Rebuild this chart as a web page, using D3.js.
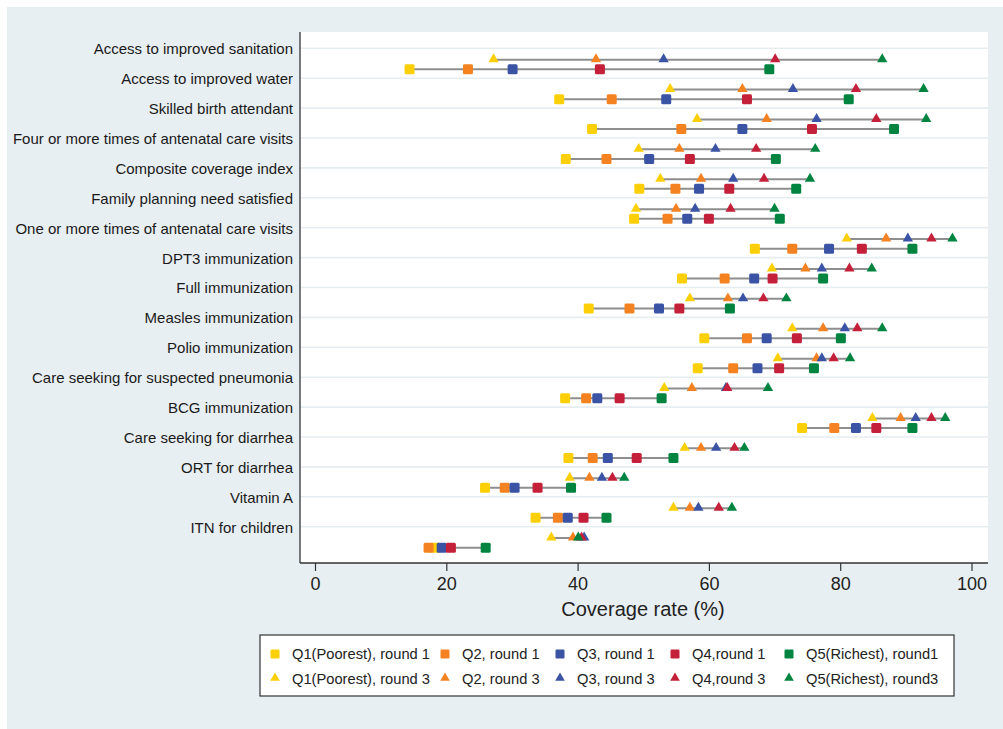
<!DOCTYPE html>
<html>
<head>
<meta charset="utf-8">
<script src="https://cdn.jsdelivr.net/npm/d3@7"></script>
<style>
  body { margin: 0; background: #fff; }
  svg { display: block; font-family: "Liberation Sans", Arial, Helvetica, sans-serif; }
</style>
</head>
<body>
<div id="chart"></div>
<script>
// indicators, top to bottom
var indicators = [
  "Access to improved sanitation",
  "Access to improved water",
  "Skilled birth attendant",
  "Four or more times of antenatal care visits",
  "Composite coverage index",
  "Family planning need satisfied",
  "One or more times of antenatal care visits",
  "DPT3 immunization",
  "Full immunization",
  "Measles immunization",
  "Polio immunization",
  "Care seeking for suspected pneumonia",
  "BCG immunization",
  "Care seeking for diarrhea",
  "ORT for diarrhea",
  "Vitamin A",
  "ITN for children"
];

var quintiles = ["Q1", "Q2", "Q3", "Q4", "Q5"];
var colors = ["#fdcf06", "#f58220", "#3a53a4", "#c5203a", "#00843f"];

// round 1 (squares), values per indicator: Q1..Q5
var round1 = [
  [14.4, 23.3, 30.1, 43.4, 69.2],
  [37.2, 45.2, 53.5, 65.8, 81.3],
  [42.2, 55.8, 65.1, 75.7, 88.2],
  [38.2, 44.4, 50.9, 57.1, 70.2],
  [49.4, 54.9, 58.5, 63.1, 73.3],
  [48.6, 53.7, 56.7, 60.0, 70.8],
  [67.0, 72.7, 78.3, 83.3, 91.0],
  [55.9, 62.4, 66.9, 69.7, 77.4],
  [41.7, 47.9, 52.4, 55.5, 63.2],
  [59.3, 65.8, 68.8, 73.4, 80.1],
  [58.3, 63.7, 67.4, 70.7, 76.0],
  [38.1, 41.3, 43.0, 46.4, 52.8],
  [74.2, 79.1, 82.4, 85.5, 91.0],
  [38.6, 42.3, 44.6, 49.0, 54.6],
  [25.9, 28.9, 30.4, 33.9, 39.0],
  [33.6, 37.0, 38.5, 40.9, 44.4],
  [18.3, 17.3, 19.3, 20.7, 26.0]
];

// round 3 (triangles), values per indicator: Q1..Q5
var round3 = [
  [27.2, 42.8, 53.1, 70.1, 86.4],
  [54.1, 65.1, 72.8, 82.4, 92.7],
  [58.2, 68.8, 76.4, 85.5, 93.1],
  [49.3, 55.5, 61.0, 67.2, 76.2],
  [52.6, 58.8, 63.7, 68.4, 75.4],
  [48.9, 55.0, 57.9, 63.3, 70.0],
  [81.0, 87.0, 90.3, 93.9, 97.1],
  [69.6, 74.7, 77.2, 81.4, 84.8],
  [57.1, 62.9, 65.2, 68.3, 71.8],
  [72.7, 77.4, 80.7, 82.6, 86.4],
  [70.5, 76.4, 77.2, 79.0, 81.5],
  [53.2, 57.4, 62.6, 62.8, 69.0],
  [84.9, 89.2, 91.5, 93.9, 96.0],
  [56.3, 58.8, 61.1, 63.9, 65.4],
  [38.8, 41.8, 43.7, 45.3, 47.1],
  [54.6, 57.1, 58.4, 61.5, 63.5],
  [36.0, 39.3, 41.0, 40.6, 40.1]
];

var legendRound1 = ["Q1(Poorest), round 1", "Q2, round 1", "Q3, round 1", "Q4,round 1", "Q5(Richest), round1"];
var legendRound3 = ["Q1(Poorest), round 3", "Q2, round 3", "Q3, round 3", "Q4,round 3", "Q5(Richest), round3"];
var xTicks = [0, 20, 40, 60, 80, 100];

var width = 1003, height = 729;
var plot = { left: 300, right: 988, top: 32, bottom: 563 };

var svg = d3.select("#chart").append("svg")
    .attr("width", width)
    .attr("height", height);

// outer background
svg.append("rect")
    .attr("x", 7).attr("y", 7)
    .attr("width", width - 7).attr("height", height - 7)
    .attr("fill", "#e8eff2");

svg.append("rect")
    .attr("x", plot.left).attr("y", plot.top)
    .attr("width", plot.right - plot.left).attr("height", plot.bottom - plot.top)
    .attr("fill", "#fff");

var x = d3.scaleLinear().domain([0, 100]).range([315, 971.5]);
var y = d3.scaleLinear().domain([0, indicators.length - 1]).range([48.3, 526.7]);

var triOffset = 0.38, sqOffset = 0.70;

// gridlines
svg.append("g").selectAll("line")
  .data(indicators)
  .enter().append("line")
    .attr("x1", plot.left).attr("x2", plot.right)
    .attr("y1", function(d, i) { return y(i); })
    .attr("y2", function(d, i) { return y(i); })
    .attr("stroke", "#e5edf0")
    .attr("stroke-width", 1.6);

// y labels
svg.append("g").selectAll("text")
  .data(indicators)
  .enter().append("text")
    .attr("x", 293)
    .attr("y", function(d, i) { return y(i) + 0.7; })
    .attr("dy", "0.35em")
    .attr("text-anchor", "end")
    .attr("font-size", 15)
    .attr("fill", "#1a1a1a")
    .text(function(d) { return d; });

// range lines
function rangeLines(data, offset) {
  svg.append("g").selectAll("line")
    .data(data)
    .enter().append("line")
      .attr("x1", function(d) { return x(d3.min(d)); })
      .attr("x2", function(d) { return x(d3.max(d)); })
      .attr("y1", function(d, i) { return y(i + offset); })
      .attr("y2", function(d, i) { return y(i + offset); })
      .attr("stroke", "#8e8e8e")
      .attr("stroke-width", 2);
}
rangeLines(round3, triOffset);
rangeLines(round1, sqOffset);

var tri = d3.symbol().type(d3.symbolTriangle).size(46);

// markers, drawn Q1..Q5
quintiles.forEach(function(q, k) {
  svg.append("g").selectAll("rect")
    .data(round1)
    .enter().append("rect")
      .attr("x", function(d) { return x(d[k]) - 5; })
      .attr("y", function(d, i) { return y(i + sqOffset) - 5; })
      .attr("width", 10).attr("height", 10)
      .attr("rx", 1.5)
      .attr("fill", colors[k]);
});
quintiles.forEach(function(q, k) {
  svg.append("g").selectAll("path")
    .data(round3)
    .enter().append("path")
      .attr("d", tri)
      .attr("transform", function(d, i) {
        return "translate(" + x(d[k]) + "," + (y(i + triOffset) - 0.5) + ")";
      })
      .attr("fill", colors[k]);
});

// axes lines
svg.append("line")
    .attr("x1", plot.left).attr("x2", plot.left)
    .attr("y1", plot.top).attr("y2", plot.bottom)
    .attr("stroke", "#333").attr("stroke-width", 1.3);

var xAxis = svg.append("g")
    .attr("transform", "translate(0," + plot.bottom + ")")
    .call(d3.axisBottom(x).tickValues(xTicks).tickSize(8).tickPadding(6));
xAxis.select(".domain").remove();
xAxis.append("line")
    .attr("x1", plot.left).attr("x2", plot.right)
    .attr("stroke", "#333").attr("stroke-width", 1.3);
xAxis.selectAll(".tick line").attr("stroke", "#333").attr("stroke-width", 1.2);
xAxis.selectAll(".tick text")
    .attr("font-size", 18)
    .attr("font-family", "'Liberation Sans', Arial, sans-serif")
    .attr("fill", "#222");

svg.append("text")
    .attr("x", 643)
    .attr("y", 616)
    .attr("text-anchor", "middle")
    .attr("font-size", 20)
    .attr("fill", "#222")
    .text("Coverage rate (%)");

// legend
var legend = svg.append("g");
legend.append("rect")
    .attr("x", 260).attr("y", 635)
    .attr("width", 694).attr("height", 61)
    .attr("fill", "#fff")
    .attr("stroke", "#333").attr("stroke-width", 1.2);

var colMarker = [275, 445, 560, 675, 789];
var rowY = [654, 679];

quintiles.forEach(function(q, k) {
  legend.append("rect")
      .attr("x", colMarker[k] - 4.5).attr("y", rowY[0] - 4.5)
      .attr("width", 9).attr("height", 9)
      .attr("rx", 1.2)
      .attr("fill", colors[k]);
  legend.append("text")
      .attr("x", colMarker[k] + 17).attr("y", rowY[0])
      .attr("dy", "0.35em")
      .attr("font-size", 14.7).attr("fill", "#222")
      .text(legendRound1[k]);
  legend.append("path")
      .attr("d", d3.symbol().type(d3.symbolTriangle).size(40))
      .attr("transform", "translate(" + colMarker[k] + "," + (rowY[1] - 1) + ")")
      .attr("fill", colors[k]);
  legend.append("text")
      .attr("x", colMarker[k] + 17).attr("y", rowY[1])
      .attr("dy", "0.35em")
      .attr("font-size", 14.7).attr("fill", "#222")
      .text(legendRound3[k]);
});
</script>
</body>
</html>
